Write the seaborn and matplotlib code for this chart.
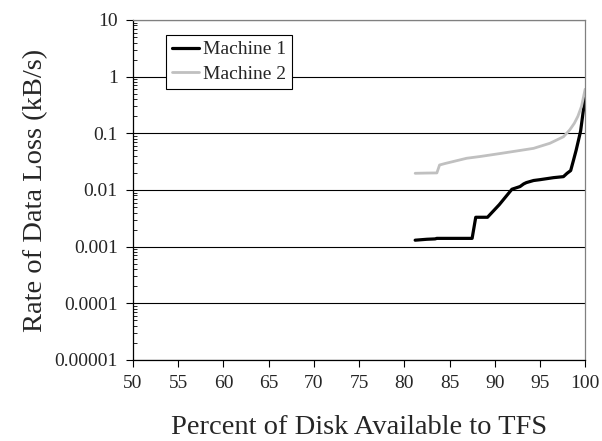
import numpy as np
import pandas as pd
import matplotlib
matplotlib.use("Agg")
import matplotlib.pyplot as plt
import seaborn as sns
from matplotlib.ticker import LogLocator, FixedLocator, FixedFormatter

sns.set_style("white")
plt.rcParams['font.family'] = ['Liberation Serif', 'DejaVu Serif']

# Machine 1 (black)
m1_x = [81.2, 82.5, 83.4, 83.6, 87.5, 87.9, 89.2, 90.5, 91.9, 92.8, 93.2, 93.5,
        94.3, 95.0, 96.5, 97.6, 98.0, 98.4, 98.7, 99.0, 99.3, 99.5, 99.75, 100.0]
m1_y = [0.0013, 0.00135, 0.00137, 0.0014, 0.0014, 0.0033, 0.0033, 0.0055, 0.0103,
        0.0115, 0.0128, 0.0135, 0.0147, 0.0152, 0.0165, 0.0172, 0.0197, 0.022,
        0.033, 0.05, 0.08, 0.11, 0.22, 0.42]

# Machine 2 (gray)
m2_x = [81.2, 82.5, 83.6, 83.9, 84.5, 86.9, 88.4, 90.6, 92.5, 94.3, 96.1, 97.6,
        98.3, 98.8, 99.2, 99.6, 100.0]
m2_y = [0.0197, 0.0199, 0.020, 0.0276, 0.0293, 0.0363, 0.039, 0.044, 0.049, 0.0543,
        0.0667, 0.087, 0.115, 0.15, 0.2, 0.3, 0.6]

y_ticks = [0.00001, 0.0001, 0.001, 0.01, 0.1, 1, 10]
y_labels = ["0.00001", "0.0001", "0.001", "0.01", "0.1", "1", "10"]
x_ticks = list(range(50, 101, 5))

df = pd.concat([
    pd.DataFrame({"x": m1_x, "y": m1_y, "series": "Machine 1"}),
    pd.DataFrame({"x": m2_x, "y": m2_y, "series": "Machine 2"}),
])

fig = plt.figure(figsize=(6.02, 4.41), dpi=100)
ax = fig.add_axes([0.221, 0.1837, 0.751, 0.771])

sns.lineplot(data=df, x="x", y="y", hue="series", size="series",
             palette={"Machine 1": "black", "Machine 2": "#c0c0c0"},
             sizes={"Machine 1": 2.3, "Machine 2": 2.0},
             estimator=None, sort=False, ax=ax)

ax.set_yscale("log")
ax.set_ylim(0.00001, 10)
ax.set_xlim(50, 100)
ax.yaxis.set_major_locator(FixedLocator(y_ticks))
ax.yaxis.set_major_formatter(FixedFormatter(y_labels))
ax.yaxis.set_minor_locator(LogLocator(base=10, subs=np.arange(2, 10)))
ax.set_xticks(x_ticks)
ax.set_xticklabels([str(v) for v in x_ticks])

ax.grid(True, which="major", axis="y", color="black", linewidth=0.8)
ax.set_axisbelow(True)

for s in ["left", "bottom"]:
    ax.spines[s].set_color("black")
    ax.spines[s].set_linewidth(0.9)
for s in ["top", "right"]:
    ax.spines[s].set_color("#808080")
    ax.spines[s].set_linewidth(0.9)

ax.tick_params(axis="both", which="major", direction="out", length=5, width=0.8,
               labelsize=14, color="black", left=True, bottom=True, pad=6)
ax.tick_params(axis="y", which="minor", direction="in", length=3, width=0.6,
               color="black", left=True)

ax.set_xlabel("Percent of Disk Available to TFS", fontsize=20.5, labelpad=16.5)
ax.set_ylabel("Rate of Data Loss (kB/s)", fontsize=20.5, labelpad=4.5)

leg = ax.legend(loc="upper left", bbox_to_anchor=(0.072, 0.957), fontsize=14,
                frameon=True, fancybox=False, edgecolor="black", framealpha=1,
                handlelength=1.4, handletextpad=0.2, borderpad=0.32,
                labelspacing=0.35, borderaxespad=0)
leg.get_frame().set_linewidth(0.8)

fig.savefig("out.png", dpi=100)
